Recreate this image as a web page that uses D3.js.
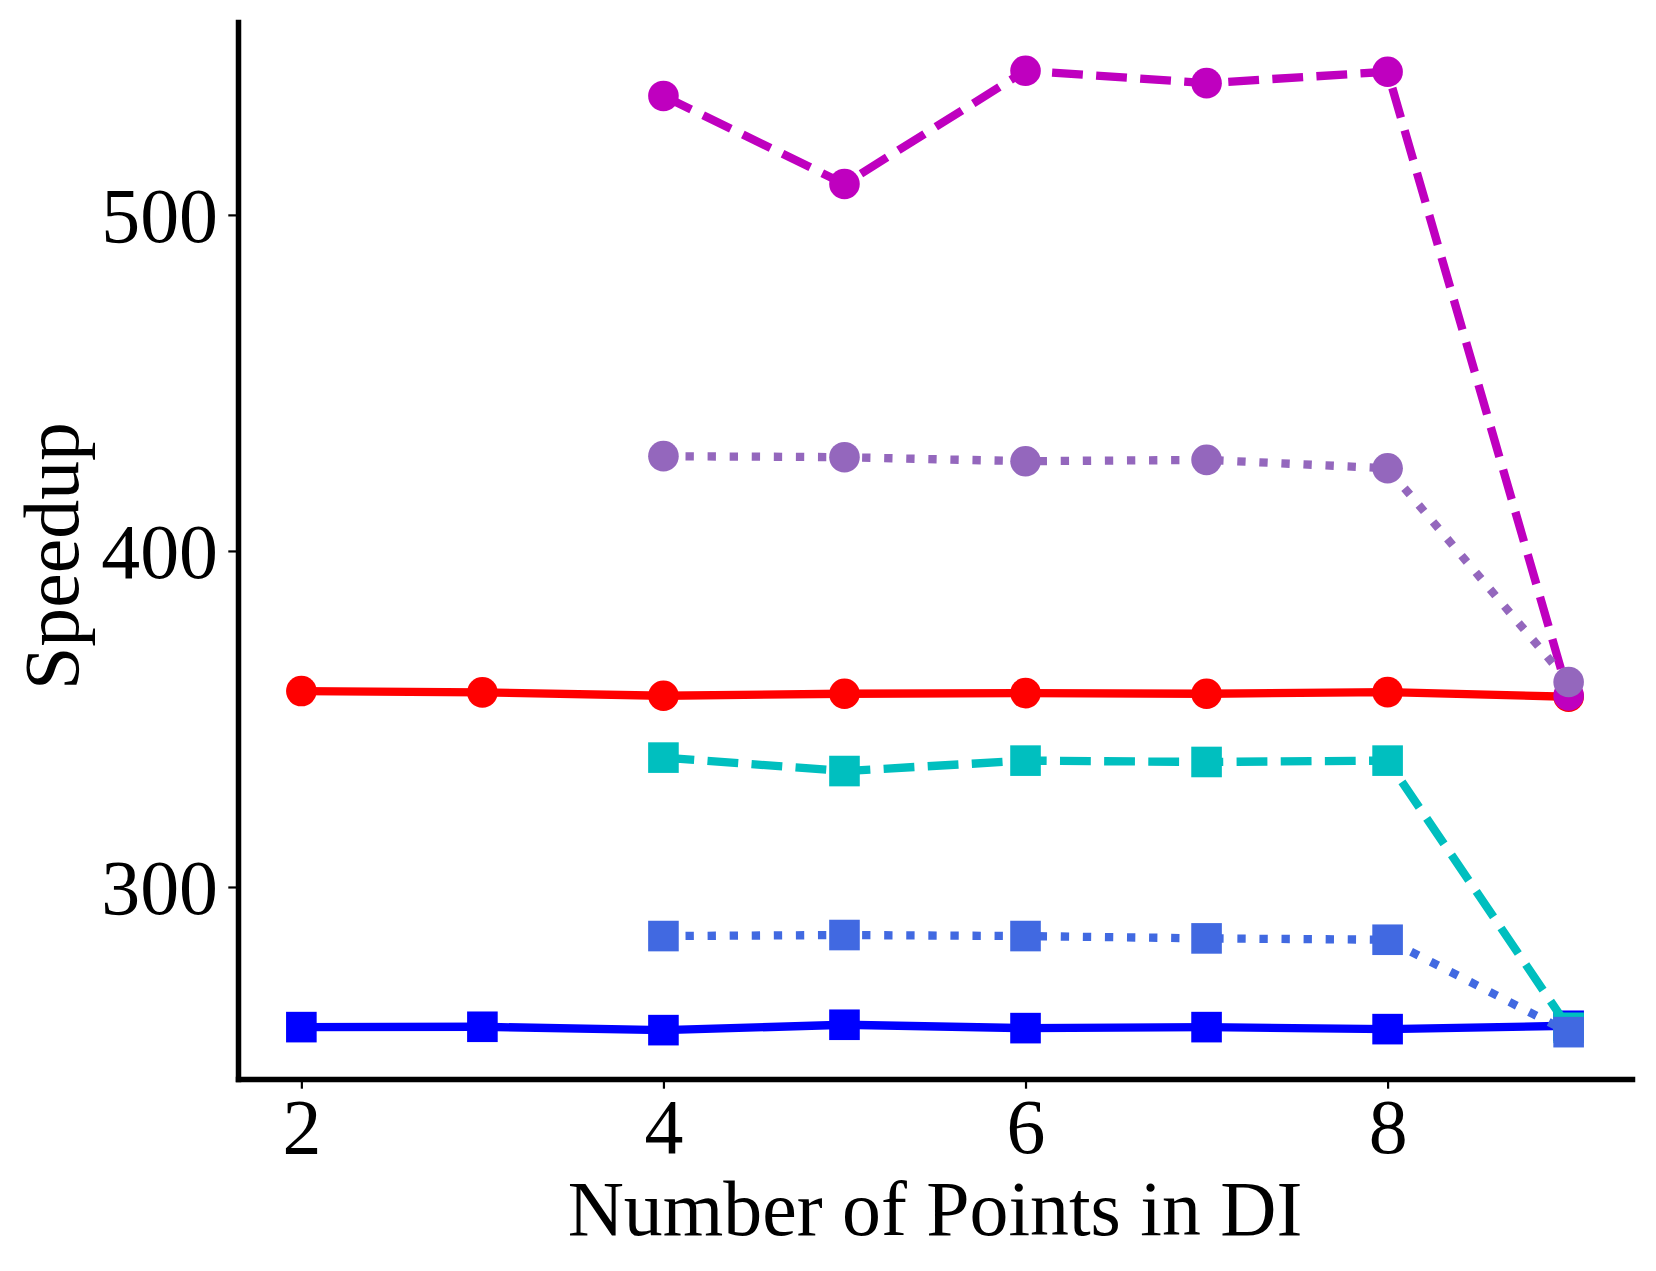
<!DOCTYPE html>
<html>
<head>
<meta charset="utf-8">
<script src="https://cdn.jsdelivr.net/npm/d3@7"></script>
<style>
  html, body { margin: 0; padding: 0; background: #fff; }
  text { font-family: "Liberation Serif", "Times New Roman", serif; fill: #000; }
</style>
</head>
<body>
<div id="chart"></div>
<script>
// data
const xsAll = [2, 3, 4, 5, 6, 7, 8, 9];
const xsPart = [4, 5, 6, 7, 8, 9];

const redSolid = [358.3, 357.9, 356.9, 357.5, 357.7, 357.5, 358.0, 356.6];
const blueSolid = [258.3, 258.4, 257.4, 259.0, 258.0, 258.3, 257.7, 258.7];
const magentaDashed = [535.4, 509.2, 542.9, 539.2, 542.6, 357.0];
const cyanDashed = [338.5, 334.5, 337.6, 337.2, 337.6, 258.1];
const purpleDotted = [428.2, 427.9, 426.7, 427.1, 424.6, 361.0];
const royalDotted = [285.4, 285.7, 285.4, 284.7, 284.3, 256.8];

const xTicks = [2, 4, 6, 8];
const yTicks = [300, 400, 500];
const xDomain = [1.65, 9.35];
const yDomain = [242.86, 557.4];

const W = 1656, H = 1271;
const mLeft = 238, mRight = 1632, mTop = 22, mBottom = 1079;
const fontPx = 77.8;
const lw = 8.33;
const ms = 30.6;

const series = [
  { xs: xsAll, ys: redSolid, color: "#ff0000", dash: null, marker: "circle" },
  { xs: xsAll, ys: blueSolid, color: "#0000ff", dash: null, marker: "square" },
  { xs: xsPart, ys: magentaDashed, color: "#bf00bf", dash: "dashed", marker: "circle" },
  { xs: xsPart, ys: cyanDashed, color: "#00bfbf", dash: "dashed", marker: "square" },
  { xs: xsPart, ys: purpleDotted, color: "#9467bd", dash: "dotted", marker: "circle" },
  { xs: xsPart, ys: royalDotted, color: "#4169e1", dash: "dotted", marker: "square" }
];

const dashes = {
  dashed: `${3.7 * lw},${1.6 * lw}`,
  dotted: `${1 * lw},${1.65 * lw}`
};

let svg = d3
  .select("#chart")
  .append("svg")
  .attr("width", W)
  .attr("height", H);

svg.append("rect").attr("width", W).attr("height", H).attr("fill", "#fff");

const x = d3.scaleLinear().domain(xDomain).range([mLeft, mRight]);
const y = d3.scaleLinear().domain(yDomain).range([mBottom, mTop]);

// lines and markers, in plotting order
const line = d3.line()
  .x((d) => x(d[0]))
  .y((d) => y(d[1]));

series.forEach((s) => {
  const pts = s.xs.map((v, i) => [v, s.ys[i]]);
  const g = svg.append("g");
  g.append("path")
    .datum(pts)
    .attr("d", line)
    .attr("fill", "none")
    .attr("stroke", s.color)
    .attr("stroke-width", lw)
    .attr("stroke-linejoin", "round")
    .attr("stroke-linecap", "butt")
    .attr("stroke-dasharray", s.dash ? dashes[s.dash] : null);

  if (s.marker === "circle") {
    g.selectAll("circle")
      .data(pts)
      .enter()
      .append("circle")
      .attr("cx", (d) => x(d[0]))
      .attr("cy", (d) => y(d[1]))
      .attr("r", ms / 2)
      .attr("fill", s.color);
  } else {
    g.selectAll("rect")
      .data(pts)
      .enter()
      .append("rect")
      .attr("x", (d) => x(d[0]) - ms / 2)
      .attr("y", (d) => y(d[1]) - ms / 2)
      .attr("width", ms)
      .attr("height", ms)
      .attr("fill", s.color);
  }
});

// axes
const xAxis = svg.append("g")
  .attr("transform", `translate(0,${mBottom})`)
  .call(d3.axisBottom(x).tickValues(xTicks).tickFormat(d3.format("d")).tickSize(9.7).tickSizeOuter(0));

const yAxis = svg.append("g")
  .attr("transform", `translate(${mLeft},0)`)
  .call(d3.axisLeft(y).tickValues(yTicks).tickFormat(d3.format("d")).tickSize(9.7).tickSizeOuter(0));

[xAxis, yAxis].forEach((a) => {
  a.attr("font-family", null).attr("font-size", null);
  a.select(".domain")
    .attr("stroke", "#000")
    .attr("stroke-width", 5.5)
    .attr("stroke-linecap", "square");
  a.selectAll(".tick line").attr("stroke", "#000").attr("stroke-width", 2.2);
  a.selectAll(".tick text")
    .style("font-size", fontPx + "px")
    .attr("fill", "#000");
});

xAxis.selectAll(".tick text").attr("y", 74).attr("dy", null);
yAxis.selectAll(".tick text").attr("x", -20).attr("dy", "0.347em");

// axis labels
svg.append("text")
  .attr("x", (mLeft + mRight) / 2)
  .attr("y", 1235)
  .style("text-anchor", "middle")
  .style("font-size", fontPx + "px")
  .text("Number of Points in DI");

svg.append("text")
  .attr("transform", `translate(78,556) rotate(-90)`)
  .style("text-anchor", "middle")
  .style("font-size", fontPx + "px")
  .text("Speedup");
</script>
</body>
</html>
